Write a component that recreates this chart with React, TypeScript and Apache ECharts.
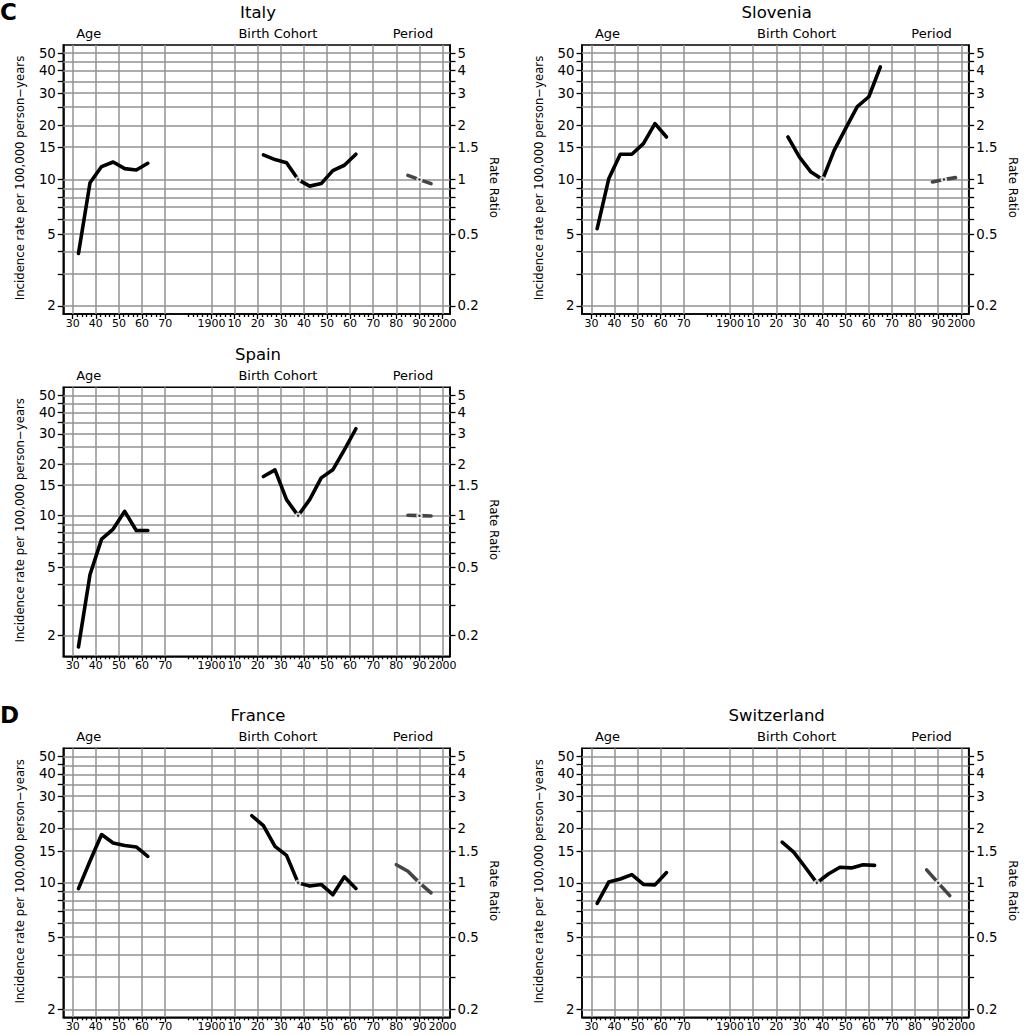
import React, { useEffect, useRef } from "react";
import * as echarts from "echarts";

// ---------------- data ----------------
const ageMidpoints = [32.5, 37.5, 42.5, 47.5, 52.5, 57.5, 62.5];

const ageTickLabels = [30, 40, 50, 60, 70];
const yearTickLabels = [1900, 1910, 1920, 1930, 1940, 1950, 1960, 1970, 1980, 1990, 2000];
const rateTickLabels = [2, 5, 10, 15, 20, 30, 40, 50];
const rateGridValues = [2, 3, 4, 5, 6, 7, 8, 9, 10, 15, 20, 25, 30, 35, 40, 45, 50];
const ratioTickLabels = [0.2, 0.5, 1, 1.5, 2, 3, 4, 5];
const ratioGridValues = [0.2, 0.3, 0.4, 0.5, 0.6, 0.7, 0.8, 0.9, 1, 1.5, 2, 2.5, 3, 3.5, 4, 4.5, 5];

// Italy
const italyAgeRates = [3.9, 9.6, 11.8, 12.5, 11.5, 11.3, 12.3];
const italyCohortYears = [1922.5, 1927.5, 1932.5, 1937.5, 1942.5, 1947.5, 1952.5, 1957.5, 1962.5];
const italyCohortRR = [1.37, 1.29, 1.24, 1.0, 0.92, 0.95, 1.12, 1.2, 1.38];
const italyPeriodYears = [1985, 1990, 1995];
const italyPeriodRR = [1.055, 1.0, 0.95];

// Slovenia
const sloveniaAgeRates = [5.35, 10.1, 13.8, 13.8, 15.8, 20.4, 17.2];
const sloveniaCohortYears = [1925, 1930, 1935, 1940, 1945, 1950, 1955, 1960, 1965];
const sloveniaCohortRR = [1.72, 1.33, 1.1, 1.0, 1.45, 1.92, 2.53, 2.87, 4.2];
const sloveniaPeriodYears = [1987.5, 1992.5, 1997.5];
const sloveniaPeriodRR = [0.97, 1.0, 1.025];

// Spain
const spainAgeRates = [1.72, 4.54, 7.3, 8.36, 10.6, 8.2, 8.2];
const spainCohortYears = [1922.5, 1927.5, 1932.5, 1937.5, 1942.5, 1947.5, 1952.5, 1957.5, 1962.5];
const spainCohortRR = [1.69, 1.85, 1.24, 1.0, 1.24, 1.66, 1.85, 2.42, 3.21];
const spainPeriodYears = [1985, 1990, 1995];
const spainPeriodRR = [1.005, 1.0, 0.995];

// France
const franceAgeRates = [9.3, 13.2, 18.5, 16.6, 16.1, 15.8, 14.0];
const franceCohortYears = [1917.5, 1922.5, 1927.5, 1932.5, 1937.5, 1942.5, 1947.5, 1952.5, 1957.5, 1962.5];
const franceCohortRR = [2.35, 2.07, 1.59, 1.42, 1.0, 0.96, 0.98, 0.86, 1.08, 0.93];
const francePeriodYears = [1980, 1985, 1990, 1995];
const francePeriodRR = [1.26, 1.16, 1.0, 0.88];

// Switzerland
const switzerlandAgeRates = [7.7, 10.1, 10.5, 11.1, 9.8, 9.75, 11.4];
const switzerlandCohortYears = [1922.5, 1927.5, 1932.5, 1937.5, 1942.5, 1947.5, 1952.5, 1957.5, 1962.5];
const switzerlandCohortRR = [1.68, 1.48, 1.22, 1.0, 1.12, 1.22, 1.21, 1.26, 1.25];
const switzerlandPeriodYears = [1985, 1990, 1995];
const switzerlandPeriodRR = [1.18, 1.0, 0.85];

// ---------------- layout ----------------
const FONT = "'DejaVu Sans', sans-serif";
const X_MIN = 25.94;
const X_MAX = 193.2;
const YEAR_SHIFT = 1810; // calendar axis: 1900 sits where age 90 would be
const W = 386.7;
const H = 269;

type Panel = {
  name: string;
  left: number;
  top: number;
  yMin: number;
  yMax: number;
  age: number[];
  cy: number[];
  cr: number[];
  cref: number;
  py: number[];
  pr: number[];
  pref: number;
};

const panels: Panel[] = [
  { name: "Italy", left: 63.3, top: 45, yMin: 0.2568, yMax: 1.744, age: italyAgeRates, cy: italyCohortYears, cr: italyCohortRR, cref: 1937.5, py: italyPeriodYears, pr: italyPeriodRR, pref: 1990 },
  { name: "Slovenia", left: 582, top: 45, yMin: 0.2568, yMax: 1.744, age: sloveniaAgeRates, cy: sloveniaCohortYears, cr: sloveniaCohortRR, cref: 1940, py: sloveniaPeriodYears, pr: sloveniaPeriodRR, pref: 1992.5 },
  { name: "Spain", left: 63.3, top: 387.3, yMin: 0.1806, yMax: 1.748, age: spainAgeRates, cy: spainCohortYears, cr: spainCohortRR, cref: 1937.5, py: spainPeriodYears, pr: spainPeriodRR, pref: 1990 },
  { name: "France", left: 63.3, top: 748.3, yMin: 0.2568, yMax: 1.744, age: franceAgeRates, cy: franceCohortYears, cr: franceCohortRR, cref: 1937.5, py: francePeriodYears, pr: francePeriodRR, pref: 1990 },
  { name: "Switzerland", left: 582, top: 748.3, yMin: 0.2568, yMax: 1.744, age: switzerlandAgeRates, cy: switzerlandCohortYears, cr: switzerlandCohortRR, cref: 1937.5, py: switzerlandPeriodYears, pr: switzerlandPeriodRR, pref: 1990 },
];

function minorTicks(from: number, to: number): number[] {
  const out: number[] = [];
  for (let v = from; v <= to; v += 2) if (v % 10 !== 0 || (v >= 1880 && v < 1900)) out.push(v);
  return out;
}

const ageMinor = minorTicks(30, 70);
const yearMinor = minorTicks(1890, 2000);
const lg = (v: number) => Math.log10(v);

function buildOption() {
  const grid: any[] = [];
  const xAxis: any[] = [];
  const yAxis: any[] = [];
  const series: any[] = [];
  const elements: any[] = [];
  const tickLine = { color: "#000", width: 1.3 };
  const labelBase = { color: "#000", fontFamily: FONT };

  panels.forEach((p, i) => {
    grid.push({
      left: p.left, top: p.top, width: W, height: H,
      show: true, borderColor: "#000", borderWidth: 1.6, backgroundColor: "transparent",
      containLabel: false, outerBoundsMode: "none",
    });
    const xb = xAxis.length;
    const common = { gridIndex: i, type: "value", position: "bottom", splitLine: { show: false }, silent: true };
    const bottomLabel = { ...labelBase, show: true, fontSize: 11, margin: 4, lineHeight: 11 };
    xAxis.push(
      {
        ...common, min: X_MIN, max: X_MAX,
        axisLine: { show: true, onZero: false, lineStyle: { color: "#000", width: 1.6 } },
        axisTick: { show: true, length: 5, customValues: ageTickLabels, lineStyle: tickLine },
        axisLabel: { ...bottomLabel, customValues: ageTickLabels, formatter: (v: number) => String(v) },
      },
      {
        ...common, min: X_MIN + YEAR_SHIFT, max: X_MAX + YEAR_SHIFT,
        axisLine: { show: false, onZero: false },
        axisTick: { show: true, length: 5, customValues: yearTickLabels, lineStyle: tickLine },
        axisLabel: {
          ...bottomLabel, customValues: yearTickLabels,
          formatter: (v: number) => (v % 100 === 0 ? String(v) : String(v % 100)),
        },
      },
      {
        ...common, min: X_MIN, max: X_MAX,
        axisLine: { show: false, onZero: false },
        axisTick: { show: true, length: 3, customValues: ageMinor, lineStyle: tickLine },
        axisLabel: { show: false },
      },
      {
        ...common, min: X_MIN + YEAR_SHIFT, max: X_MAX + YEAR_SHIFT,
        axisLine: { show: false, onZero: false },
        axisTick: { show: true, length: 3, customValues: yearMinor, lineStyle: tickLine },
        axisLabel: { show: false },
      }
    );
    const yb = yAxis.length;
    yAxis.push(
      {
        gridIndex: i, type: "value", position: "left", min: p.yMin, max: p.yMax, silent: true,
        splitLine: { show: false },
        axisLine: { show: true, onZero: false, lineStyle: { color: "#000", width: 1.6 } },
        axisTick: { show: true, length: 5.5, customValues: rateGridValues.map(lg), lineStyle: tickLine },
        axisLabel: {
          ...labelBase, show: true, fontSize: 13.3, margin: 7.5, customValues: rateTickLabels.map(lg),
          formatter: (v: number) => String(Math.round(Math.pow(10, v))),
        },
      },
      {
        gridIndex: i, type: "value", position: "right", min: p.yMin - 1, max: p.yMax - 1, silent: true,
        splitLine: { show: false },
        axisLine: { show: true, onZero: false, lineStyle: { color: "#000", width: 1.6 } },
        axisTick: { show: true, length: 5.5, customValues: ratioGridValues.map(lg), lineStyle: tickLine },
        axisLabel: {
          ...labelBase, show: true, fontSize: 13.3, margin: 7.5, customValues: ratioTickLabels.map(lg),
          formatter: (v: number) => String(parseFloat(Math.pow(10, v).toPrecision(2))),
        },
      }
    );

    const gridLineStyle = { color: "#929292", width: 1.5, type: "solid" };
    // grid lines on age axis + rate axis
    series.push({
      type: "line", xAxisIndex: xb, yAxisIndex: yb, data: [[40, 1]], symbol: "none",
      lineStyle: { width: 0 }, silent: true, z: 1,
      markLine: {
        silent: true, symbol: ["none", "none"], label: { show: false }, lineStyle: gridLineStyle,
        emphasis: { disabled: true }, animation: false,
        data: [
          ...ageTickLabels.map((a) => ({ xAxis: a })),
          ...rateGridValues.map((r) => ({ yAxis: lg(r) })),
        ],
      },
    });
    // grid lines on calendar axis
    series.push({
      type: "line", xAxisIndex: xb + 1, yAxisIndex: yb + 1, data: [[1950, 0]], symbol: "none",
      lineStyle: { width: 0 }, silent: true, z: 1,
      markLine: {
        silent: true, symbol: ["none", "none"], label: { show: false }, lineStyle: gridLineStyle,
        emphasis: { disabled: true }, animation: false,
        data: yearTickLabels.map((y) => ({ xAxis: y })),
      },
    });
    // age effect (rates)
    series.push({
      type: "line", xAxisIndex: xb, yAxisIndex: yb, symbol: "none", z: 10, silent: true,
      data: ageMidpoints.map((a, k) => [a, lg(p.age[k])]),
      lineStyle: { color: "#000", width: 3.6, cap: "round", join: "round" },
    });
    // cohort effect (rate ratio)
    series.push({
      type: "line", xAxisIndex: xb + 1, yAxisIndex: yb + 1, symbol: "none", z: 10, silent: true,
      data: p.cy.map((y, k) => [y, lg(p.cr[k])]),
      lineStyle: { color: "#000", width: 3.6, cap: "round", join: "round" },
    });
    // period effect (rate ratio)
    series.push({
      type: "line", xAxisIndex: xb + 1, yAxisIndex: yb + 1, symbol: "none", z: 10, silent: true,
      data: p.py.map((y, k) => [y, lg(p.pr[k])]),
      lineStyle: { color: "#454545", width: 3.6, cap: "round", join: "round" },
    });
    // reference points
    series.push({
      type: "scatter", xAxisIndex: xb + 1, yAxisIndex: yb + 1, z: 11, silent: true,
      symbol: "circle", symbolSize: 6.5, itemStyle: { color: "#fff" },
      data: [[p.cref, lg(1)], [p.pref, lg(1)]],
    });
    series.push({
      type: "scatter", xAxisIndex: xb + 1, yAxisIndex: yb + 1, z: 12, silent: true,
      symbol: "circle", symbolSize: 2.4, itemStyle: { color: "#000" },
      data: [[p.cref, lg(1)], [p.pref, lg(1)]],
    });

    const txt = (text: string, x: number, y: number, size: number, rotation = 0, align = "center", weight = "normal") => ({
      type: "text", x, y, rotation, silent: true, z: 20,
      style: { text, fontSize: size, fontFamily: FONT, fontWeight: weight, fill: "#000", align, verticalAlign: "middle" },
    });
    elements.push(
      txt(p.name, p.left + 194.7, p.top - 32.5, 16.5),
      txt("Age", p.left + 25.5, p.top - 11.5, 13),
      txt("Birth Cohort", p.left + 214.6, p.top - 11.5, 13),
      txt("Period", p.left + 349.6, p.top - 11.5, 13),
      txt("Incidence rate per 100,000 person\u2212years", p.left - 43.3, p.top + H / 2 - 1.5, 11.7, Math.PI / 2),
      txt("Rate Ratio", p.left + W + 44.3, p.top + H / 2 + 8, 11.8, -Math.PI / 2)
    );
  });

  elements.push(
    {
      type: "text", x: 0, y: 12, silent: true,
      style: { text: "C", fontSize: 23, fontWeight: "bold", fontFamily: FONT, fill: "#000", align: "left", verticalAlign: "middle" },
    },
    {
      type: "text", x: 0, y: 715, silent: true,
      style: { text: "D", fontSize: 23, fontWeight: "bold", fontFamily: FONT, fill: "#000", align: "left", verticalAlign: "middle" },
    }
  );

  return {
    animation: false,
    backgroundColor: "#fff",
    grid,
    xAxis,
    yAxis,
    series,
    graphic: { elements },
  };
}

export default function App() {
  const ref = useRef<HTMLDivElement>(null);
  useEffect(() => {
    if (!ref.current) return;
    const chart = echarts.init(ref.current, undefined, { renderer: "svg" });
    chart.setOption(buildOption() as any);
    return () => chart.dispose();
  }, []);
  return (
    <div
      ref={ref}
      style={{ position: "absolute", left: 0, top: 0, width: 1024, height: 1035, background: "#fff" }}
    />
  );
}
